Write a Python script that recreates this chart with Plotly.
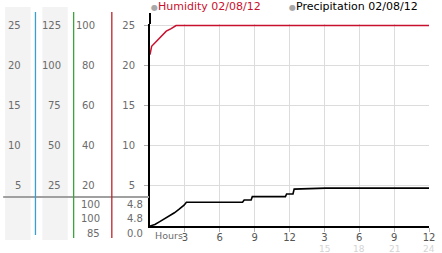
import plotly.graph_objects as go

# ---------------- data ----------------
hum_hours = [0, 0.14, 0.56, 0.98, 1.4, 1.82, 2.24, 24]
hum_values = [85.5, 89.7, 92.2, 94.7, 97.2, 98.5, 100, 100]          # %

precip_hours = [0, 0.42, 0.84, 1.26, 1.68, 2.1, 2.51, 2.93, 3.13, 7.96, 8.1, 8.7, 8.8,
                11.65, 11.75, 12.3, 12.4, 15.1, 24]
precip_values = [0.0, 0.2, 0.55, 0.9, 1.2, 1.65, 2.1, 2.6, 2.96, 2.96, 3.25, 3.25, 3.66,
                 3.66, 4.0, 4.0, 4.6, 4.72, 4.72]

x_tickvals = [3, 6, 9, 12, 15, 18, 21, 24]
x_ticktop = ["3", "6", "9", "12", "3", "6", "9", "12"]
x_tickbottom = ["", "", "", "", "15", "18", "21", "24"]

y_tickvals = [5, 10, 15, 20, 25]
col1_labels = ["5", "10", "15", "20", "25"]
col2_labels = ["25", "50", "75", "100", "125"]
col3_labels = ["20", "40", "60", "80", "100"]
col4_labels = ["5", "10", "15", "20", "25"]

hum_stats = ["100", "100", "85"]
precip_stats = ["4.8", "4.8", "0.0"]

legend_names = ["Humidity 02/08/12", "Precipitation 02/08/12"]

# ---------------- layout geometry ----------------
W, H = 442, 253
L, R, T, B = 150, 7, 24, 27
PW, PH = W - L - R, H - T - B
YMAX = 25.2

def px(x):
    return (x - L) / PW

def py(y):
    return (H - B - y) / PH

FONT = "DejaVu Sans"
GRAY_TXT = "#6b6b6b"

fig = go.Figure()

fig.add_trace(go.Scatter(x=hum_hours, y=hum_values, mode="lines", yaxis="y2",
                         line=dict(color="#c8102e", width=1.5),
                         name=legend_names[0], hoverinfo="skip"))
fig.add_trace(go.Scatter(x=precip_hours, y=precip_values, mode="lines",
                         line=dict(color="#000000", width=1.6), name=legend_names[1],
                         hoverinfo="skip"))

shapes = []
for x0, x1 in [(2, 28), (40, 66)]:
    shapes.append(dict(type="rect", xref="paper", yref="paper", x0=px(x0), x1=px(x1),
                       y0=py(240), y1=py(7), fillcolor="#f3f3f3", line=dict(width=0),
                       layer="below"))
shapes.append(dict(type="line", xref="paper", yref="paper", x0=px(0), x1=px(149),
                   y0=py(197), y1=py(197), line=dict(color="#a0a0a0", width=2)))
for xx, col, yb in [(33, "#3a9fcf", 235), (72, "#3aa63a", 238), (111, "#b8262c", 238)]:
    shapes.append(dict(type="line", xref="paper", yref="paper", x0=px(xx), x1=px(xx),
                       y0=py(yb), y1=py(12), line=dict(color=col, width=1.3)))
shapes.append(dict(type="line", xref="paper", yref="paper", x0=0, x1=0,
                   y0=1, y1=py(13), line=dict(color="#000000", width=2)))

annotations = []
for labels, xr in [(col1_labels, 20), (col2_labels, 61), (col3_labels, 96)]:
    for v, t in zip(y_tickvals, labels):
        annotations.append(dict(text=t, x=px(xr), y=v, xref="paper", yref="y",
                                xanchor="right", yanchor="middle", showarrow=False,
                                font=dict(family=FONT, size=10, color=GRAY_TXT)))
for labels, xr in [(hum_stats, 101), (precip_stats, 145)]:
    for yy, t in zip([204, 218, 233], labels):
        annotations.append(dict(text=t, x=px(xr), y=py(yy), xref="paper", yref="paper",
                                xanchor="right", yanchor="middle", showarrow=False,
                                font=dict(family=FONT, size=10, color=GRAY_TXT)))
for v, t in zip(x_tickvals, x_tickbottom):
    if t:
        annotations.append(dict(text=t, x=v, y=py(248.5), xref="x", yref="paper",
                                xanchor="center", yanchor="middle", showarrow=False,
                                borderpad=0,
                                font=dict(family=FONT, size=9, color="#d4d4d4")))
annotations.append(dict(text="Hours", x=px(153), y=py(235.5), xref="paper", yref="paper",
                        xanchor="left", yanchor="middle", showarrow=False,
                        font=dict(family=FONT, size=9.5, color=GRAY_TXT)))
for name, xl, col in [(legend_names[0], 149, "#c8102e"), (legend_names[1], 290, "#000000")]:
    annotations.append(dict(text="<span style='color:#a8a8a8;font-size:8px'>●</span>" + name,
                            x=px(xl), y=py(7), xref="paper", yref="paper",
                            xanchor="left", yanchor="middle", showarrow=False,
                            font=dict(family=FONT, size=11, color=col)))

fig.update_layout(
    width=W, height=H,
    margin=dict(l=L, r=R, t=T, b=B, pad=0),
    paper_bgcolor="white", plot_bgcolor="white",
    showlegend=False,
    shapes=shapes, annotations=annotations,
    xaxis=dict(range=[0, 24], tickvals=x_tickvals, ticktext=x_ticktop,
               showgrid=True, gridcolor="#dcdcdc", gridwidth=1,
               showline=True, linecolor="#000000", linewidth=2,
               ticks="outside", ticklen=4, tickcolor="#b0b0b0", tickwidth=1,
               ticklabelstandoff=-3, ticklabeloverflow="allow",
               tickfont=dict(family=FONT, size=10, color="#555555"),
               zeroline=False, fixedrange=True),
    yaxis=dict(range=[0, YMAX], tickvals=y_tickvals, ticktext=col4_labels,
               showgrid=True, gridcolor="#dcdcdc", gridwidth=1,
               showline=True, linecolor="#000000", linewidth=2,
               ticks="outside", ticklen=4, tickcolor="#b0b0b0", tickwidth=1,
               ticklabelstandoff=7,
               tickfont=dict(family=FONT, size=10, color=GRAY_TXT),
               zeroline=False, fixedrange=True),
    yaxis2=dict(range=[0, YMAX * 4], overlaying="y", side="right", visible=False,
                showgrid=False, fixedrange=True),
)

fig.write_html("out.html", config={"displayModeBar": False})
